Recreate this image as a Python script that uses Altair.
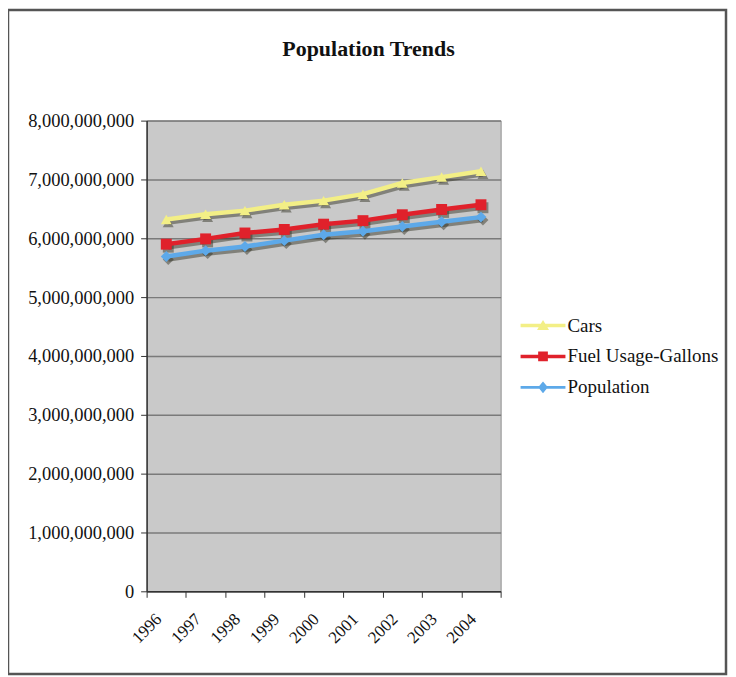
import altair as alt
import pandas as pd

years = [1996, 1997, 1998, 1999, 2000, 2001, 2002, 2003, 2004]
series_names = ["Cars", "Fuel Usage-Gallons", "Population"]
cars = [6.32e9, 6.41e9, 6.47e9, 6.57e9, 6.64e9, 6.75e9, 6.94e9, 7.04e9, 7.14e9]
fuel = [5.90e9, 5.99e9, 6.09e9, 6.15e9, 6.24e9, 6.30e9, 6.40e9, 6.49e9, 6.57e9]
population = [5.69e9, 5.79e9, 5.86e9, 5.96e9, 6.06e9, 6.12e9, 6.20e9, 6.28e9, 6.36e9]
y_ticks = [0, 1e9, 2e9, 3e9, 4e9, 5e9, 6e9, 7e9, 8e9]

colors = ["#F3EF86", "#E0212B", "#5DA9E9"]
shapes = ["triangle-up", "square", "diamond"]
legend_paths = [
    "M-1,-0.23H5V0.23H-1Z M2,-0.75L2.8,0.6L1.2,0.6Z",
    "M-1,-0.23H5V0.23H-1Z M1.35,-0.65H2.65V0.65H1.35Z",
    "M-1,-0.2H5V0.2H-1Z M2,-0.8L2.65,0L2,0.8L1.35,0Z",
]

rows = []
for name, vals in zip(series_names, [cars, fuel, population]):
    for yr, v in zip(years, vals):
        rows.append({"year": yr, "series": name, "value": v})
df = pd.DataFrame(rows)

FONT = "Liberation Serif"
W, H = 355, 472
PAD = {"left": 139, "top": 112, "right": 228, "bottom": 84}

boundaries = [y - 0.5 for y in years] + [years[-1] + 0.5]

x_enc = alt.X(
    "year:Q",
    scale=alt.Scale(domain=[years[0] - 0.5, years[-1] + 0.5], nice=False, zero=False),
    axis=alt.Axis(
        values=boundaries,
        labelExpr=f"datum.value > {years[-1]} ? '' : format(datum.value + 0.5, 'd')",
        labelAngle=315,
        labelAlign="right",
        labelBaseline="middle",
        labelOffset=12,
        labelPadding=19,
        labelFontSize=17,
        labelOverlap=False,
        labelFlush=False,
        labelBound=False,
        tickSize=6,
        grid=False,
        title=None,
    ),
)
y_enc = alt.Y(
    "value:Q",
    scale=alt.Scale(domain=[0, 8e9], nice=False),
    axis=alt.Axis(
        values=y_ticks,
        format=",d",
        tickSize=6,
        labelPadding=7,
        labelFontSize=18.5,
        grid=True,
        title=None,
    ),
)
color_enc = alt.Color(
    "series:N",
    scale=alt.Scale(domain=series_names, range=colors),
    legend=None,
)

base = alt.Chart(df)

shadow = base.mark_line(strokeWidth=4.5, color="#2a2a1a", opacity=0.45, xOffset=2, yOffset=3).encode(
    x=x_enc, y=y_enc, detail="series:N"
)
shadow_pts = base.mark_point(filled=True, size=120, color="#2a2a1a", opacity=0.45, xOffset=2, yOffset=3).encode(
    x=x_enc, y=y_enc,
    shape=alt.Shape("series:N", scale=alt.Scale(domain=series_names, range=shapes), legend=None),
)
lines = base.mark_line(strokeWidth=4.5).encode(x=x_enc, y=y_enc, color=color_enc)
points = base.mark_point(filled=True, size=120, opacity=1).encode(
    x=x_enc, y=y_enc, color=color_enc,
    shape=alt.Shape("series:N", scale=alt.Scale(domain=series_names, range=shapes), legend=None),
)

leg = alt.Legend(
    title=None,
    orient="none",
    legendX=373,
    legendY=196,
    labelFont=FONT,
    labelFontSize=19,
    labelColor="#111111",
    symbolSize=225,
    symbolOpacity=1,
    symbolStrokeWidth=0,
    labelOffset=30,
    rowPadding=11,
)
legend_layer = base.transform_filter("datum.value < 0").mark_point(filled=True).encode(
    x=x_enc, y=y_enc,
    color=alt.Color("series:N", scale=alt.Scale(domain=series_names, range=colors), legend=leg),
    shape=alt.Shape("series:N", scale=alt.Scale(domain=series_names, range=legend_paths), legend=leg),
)

frame = alt.Chart(alt.Data(values=[{"f": 1}])).mark_rect(
    filled=False, stroke="#555555", strokeWidth=2.5
).encode(
    x=alt.value(-139), x2=alt.value(581), y=alt.value(-111), y2=alt.value(555)
)

chart = (
    alt.layer(shadow, shadow_pts, lines, points, legend_layer, frame)
    .resolve_scale(shape="independent", color="independent")
    .properties(
        width=W,
        height=H,
        autosize=alt.AutoSizeParams(type="none"),
        padding=PAD,
        title=alt.Title(
            "Population Trends",
            font=FONT,
            fontSize=22,
            fontWeight="bold",
            color="#111111",
            frame="group",
            offset=-52,
            dx=45,
        ),
        background="white",
    )
    .configure_view(fill="#C9C9C9", stroke="#8f8f8f", strokeWidth=1)
    .configure_axis(
        labelFont=FONT,
        labelFontSize=17,
        labelColor="#111111",
        domainColor="#333333",
        domainWidth=1.5,
        tickColor="#333333",
        tickWidth=1,
        gridColor="#7a7a7a",
        gridWidth=1.5,
    )
)

chart.save("out.html", embed_options={"renderer": "svg", "actions": False})
